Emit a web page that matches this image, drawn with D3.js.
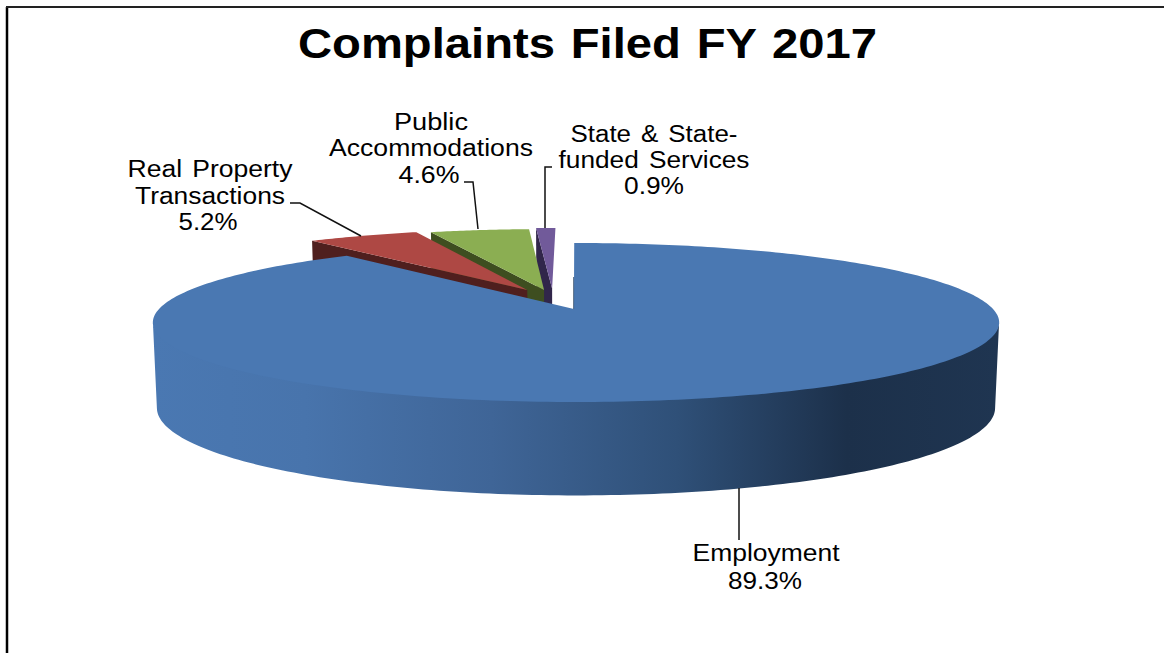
<!DOCTYPE html>
<html>
<head>
<meta charset="utf-8">
<script src="https://cdn.jsdelivr.net/npm/d3@7"></script>
<style>
html,body{margin:0;padding:0;background:#fff;overflow:hidden}
svg{display:block}
text{font-family:"Liberation Sans",Arial,sans-serif;fill:#000}
</style>
</head>
<body>
<div id="chart"></div>
<script>
const categories = ["Employment", "Real Property Transactions", "Public Accommodations", "State & State-funded Services"];
const values = [89.3, 5.2, 4.6, 0.9];
const percentLabels = ["89.3%", "5.2%", "4.6%", "0.9%"];
const titleText = "Complaints Filed FY 2017";

const W = 1164, H = 653;
const svg = d3.select("#chart").append("svg").attr("width", W).attr("height", H);

// perspective pie projection: planes[0] is the top face, planes[1] the bottom rim
const K = 0.17;
const planes = [{b:417, a:77.2, y0:309}, {b:413, a:85, y0:393}];
const X0 = 576;
function project(u, v, p){
  const d = 1 + K*v;
  return [X0 + p.b*u/d, p.y0 - p.a*v/d];
}
const line = d3.line();
const pieLayout = d3.pie().sort(null).value(d => d).startAngle(0).endAngle(2*Math.PI);
const arcs = pieLayout(values);

const sliceColors = [
  {top:"#4a78b2"},
  {top:"#ae4844", wall:"#4f1f1e"},
  {top:"#8bae52", wall:"#3e4e20"},
  {top:"#715a9a", wall:"#31264a"}
];
const explode = [[-0.005,0],[-0.122,0.257],[-0.08,0.257],[-0.06,0.277]];

function rim(a0,a1,off,plane,n=80){
  return d3.range(n+1).map(i=>{
    const t = a0+(a1-a0)*i/n;
    return project(off[0]+Math.sin(t), off[1]+Math.cos(t), plane);
  });
}

const defs = svg.append("defs");
const grad = defs.append("linearGradient").attr("id","wallGrad")
  .attr("gradientUnits","userSpaceOnUse").attr("x1",153).attr("x2",999).attr("y1",0).attr("y2",0);
[[0,"#4a78b2"],[0.18,"#4874ac"],[0.4,"#3f6597"],[0.62,"#2f5078"],[0.82,"#1c304a"],[1,"#1f3551"]]
  .forEach(s=>grad.append("stop").attr("offset",s[0]).attr("stop-color",s[1]));

// exploded slices, back to front: purple, green, red
[3,2,1].forEach(i=>{
  const a = arcs[i], off = explode[i];
  const apexT = project(off[0],off[1],planes[0]);
  const apexB = project(off[0],off[1],planes[1]);
  const rimT = project(off[0]+Math.sin(a.startAngle),off[1]+Math.cos(a.startAngle),planes[0]);
  const rimB = project(off[0]+Math.sin(a.startAngle),off[1]+Math.cos(a.startAngle),planes[1]);
  svg.append("path").attr("d",line([rimT,apexT,apexB,rimB])+"Z").attr("fill",sliceColors[i].wall);
  svg.append("path").attr("d",line([apexT,...rim(a.startAngle,a.endAngle,off,planes[0],30)])+"Z")
    .attr("fill",sliceColors[i].top);
});

// Employment slice
const blue = arcs[0];
const o0 = [0,0];
const wa0 = Math.PI/2 + Math.asin(K), wa1 = 3*Math.PI/2 - Math.asin(K);
// wall's upper edge tucked just beneath the top face to hide the seam
const tucked = rim(wa0,wa1,o0,planes[0],160).map(p=>[p[0],p[1]-1.5]);
svg.append("path")
  .attr("d",line([...tucked,...rim(wa0,wa1,o0,planes[1],160).reverse()])+"Z")
  .attr("fill","url(#wallGrad)");
svg.append("path")
  .attr("d",line([
    project(explode[0][0],0,planes[0]),
    project(explode[0][0],1,planes[0]),
    ...rim(blue.startAngle,blue.endAngle,o0,planes[0],300)
  ])+"Z")
  .attr("fill",sliceColors[0].top);
svg.append("line").attr("x1",573.6).attr("x2",573.6).attr("y1",277).attr("y2",309)
  .attr("stroke","#2a4564").attr("stroke-width",0.8);

// leader lines
const leaders = [
  [[739,488],[739,540]],
  [[290,203],[300,203],[361,236]],
  [[464,182],[473,182],[478,229]],
  [[552,167],[545,167],[545,228]]
];
leaders.forEach(l=>svg.append("path").attr("d",line(l)).attr("fill","none").attr("stroke","#111").attr("stroke-width",1.5));

// labels
const labelLines = [
  {x:[766], y:[561], t:[categories[0]], w:[147]},
  {x:[210,210], y:[177,204], t:["Real Property","Transactions"], w:[165,150]},
  {x:[431,431], y:[130,156], t:["Public","Accommodations"], w:[74,204]},
  {x:[654,654], y:[142,168], t:["State & State-","funded Services"], w:[167,191]}
];
const pctPos = [[765,589],[208,230],[429,183],[654,194]];
const pctWidths = [74,59,61,60];
labelLines.forEach((l,i)=>{
  l.t.forEach((s,j)=>{
    svg.append("text").attr("x",l.x[j]).attr("y",l.y[j]).attr("text-anchor","middle")
      .attr("font-size",23).attr("word-spacing",2.5).attr("fill","#111")
      .attr("textLength",l.w[j]).attr("lengthAdjust","spacingAndGlyphs").text(s);
  });
  svg.append("text").attr("x",pctPos[i][0]).attr("y",pctPos[i][1]).attr("text-anchor","middle")
    .attr("font-size",23).attr("textLength",pctWidths[i]).attr("lengthAdjust","spacingAndGlyphs")
    .text(percentLabels[i]);
});

// title
svg.append("text").attr("x",587.5).attr("y",58).attr("text-anchor","middle")
  .attr("font-size",43).attr("font-weight","bold").attr("word-spacing",2.5)
  .attr("textLength",579).attr("lengthAdjust","spacingAndGlyphs").text(titleText);

// frame
svg.append("path").attr("d",line([[7,H],[7,7]])).attr("fill","none").attr("stroke","#000").attr("stroke-width",2.5);
svg.append("path").attr("d",line([[6,7],[W,7]])).attr("fill","none").attr("stroke","#222").attr("stroke-width",2);
</script>
</body>
</html>
